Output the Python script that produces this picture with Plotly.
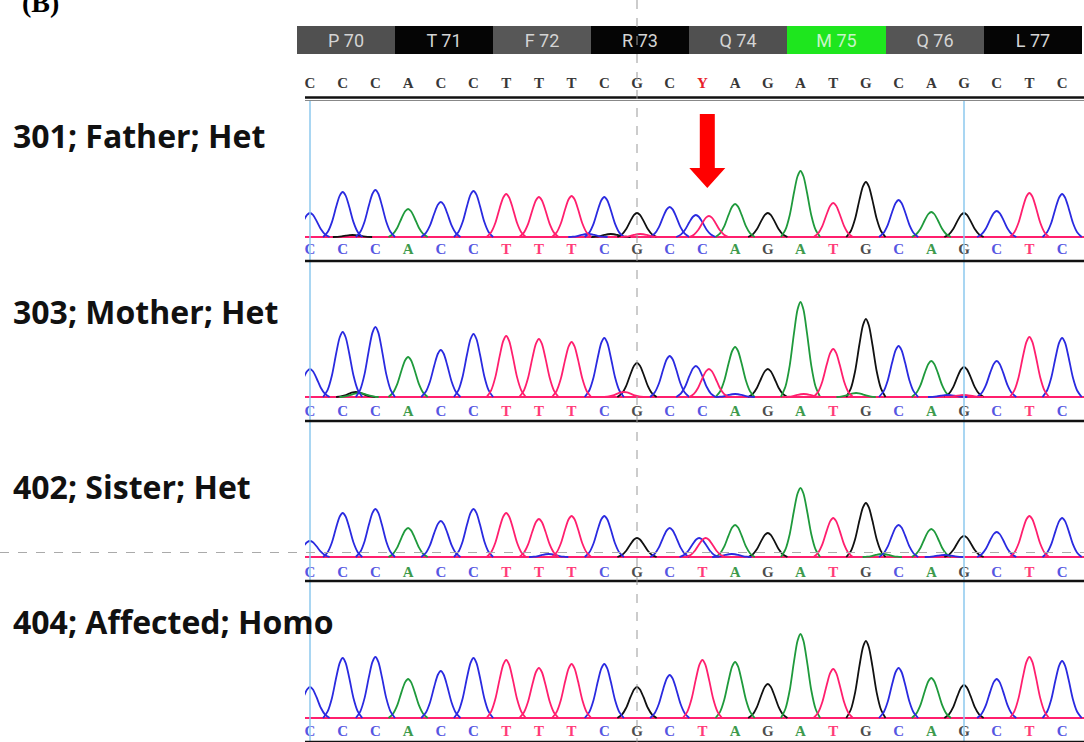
import plotly.graph_objects as go

# ---------------- data ----------------
codon_labels = ["P 70", "T 71", "F 72", "R 73", "Q 74", "M 75", "Q 76", "L 77"]
codon_start = [0, 3, 6, 9, 12, 15, 18, 21]
codon_colors = ["#505050", "#050505", "#575757", "#050505", "#505050", "#1ee61e", "#555555", "#050505"]

ref_seq = "CCCACCTTTCGCYAGATGCAGCTC"

sample_labels = ["301; Father; Het", "303; Mother; Het", "402; Sister; Het", "404; Affected; Homo"]

father_calls = "CCCACCTTTCGCCAGATGCAGCTC"
father_heights = [24, 45, 47, 28, 35, 46, 43, 40, 41, 40, 24, 30, 22, 33, 24, 66, 34, 55, 37, 25, 24, 26, 44, 43]
father_extra = [("T", 12.2, 21), ("G", 1.3, 2), ("C", 8.5, 3), ("G", 9.2, 3), ("T", 10.1, 3)]

mother_calls = "CCCACCTTTCGCCAGATGCAGCTC"
mother_heights = [28, 65, 70, 40, 47, 63, 61, 58, 55, 59, 34, 41, 31, 50, 28, 95, 48, 78, 51, 36, 30, 36, 60, 59]
mother_extra = [("T", 12.2, 28), ("G", 1.4, 5), ("A", 1.5, 4), ("T", 9.6, 5), ("C", 13.0, 3),
                ("T", 15.1, 3), ("A", 16.7, 4), ("C", 19.5, 2), ("T", 20.0, 2)]

sister_calls = "CCCACCTTTCGCTAGATGCAGCTC"
sister_heights = [16, 44, 48, 29, 36, 48, 44, 38, 41, 41, 19, 29, 19, 32, 24, 69, 39, 54, 32, 28, 21, 25, 41, 39]
sister_extra = [("C", 11.9, 19), ("C", 7.3, 3), ("C", 12.9, 3), ("A", 17.5, 3), ("C", 19.4, 2)]

affected_calls = "CCCACCTTTCGCTAGATGCAGCTC"
affected_heights = [31, 60, 61, 39, 47, 60, 58, 50, 54, 54, 31, 43, 58, 56, 34, 84, 49, 77, 50, 40, 33, 39, 61, 57]
affected_extra = []

panels = [
    (father_calls, father_heights, father_extra),
    (mother_calls, mother_heights, mother_extra),
    (sister_calls, sister_heights, sister_extra),
    (affected_calls, affected_heights, affected_extra),
]

# ---------------- style / geometry (pixels) ----------------
W, H = 1084, 742
STEP = 32.7          # px per base
X0 = 310             # px of base 0
TRACE_LEFT = 305
baselines = [237, 397, 557, 718]
below = [28, 28, 28, 24]
letter_off = [-13, -15, -16, -14]
line_off = -24
TOP = 100

# peak drawing template (shape of one trace peak, relative to its apex)
PROFILE_DX = [-0.6, -0.46, -0.33, -0.2, -0.09, 0.0, 0.09, 0.2, 0.33, 0.46, 0.6]
PROFILE_FR = [0.0, 0.11, 0.33, 0.67, 0.92, 1.0, 0.92, 0.67, 0.33, 0.11, 0.0]

channel_color = {"G": "#111111", "A": "#1f9a3c", "C": "#2a2ae0", "T": "#ff1f6e"}
letter_color = {"C": "#5656e2", "A": "#3d9a4c", "G": "#4d4d4d", "T": "#ff3c78", "Y": "#e8202a"}
order = ["G", "A", "C", "T"]
SEQ_FONT = "Liberation Serif, Courier New, serif"

def px2paper(py):
    return 1 - py / H

fig = go.Figure()

x_left = (TRACE_LEFT - X0) / STEP
x_right = (W - X0) / STEP

for p, (calls, heights, extra) in enumerate(panels):
    yname = "y" if p == 0 else f"y{p+1}"
    het_sites = {round(e[1]): e[1] - round(e[1]) for e in extra if e[2] > 10}
    peaks = {b: [] for b in order}
    for i, (b, h) in enumerate(zip(calls, heights)):
        pos = i - het_sites[i] if i in het_sites else i
        peaks[b].append((pos, h))
    for b, pos, h in extra:
        peaks[b].append((pos, h))
    for b in order:
        fig.add_trace(go.Scatter(x=[x_left, x_right], y=[0, 0], mode="lines",
                                 line=dict(color=channel_color[b], width=1.8),
                                 xaxis="x", yaxis=yname, hoverinfo="skip"))
    for b in order:
        xs, ys = [], []
        for pos, h in sorted(peaks[b]):
            xs += [pos + d for d in PROFILE_DX] + [None]
            ys += [h * f for f in PROFILE_FR] + [None]
        fig.add_trace(go.Scatter(x=xs, y=ys, mode="lines",
                                 line=dict(color=channel_color[b], width=1.8, shape="spline", smoothing=0.8),
                                 connectgaps=False, xaxis="x", yaxis=yname, hoverinfo="skip"))
    fig.add_trace(go.Scatter(x=list(range(len(calls))), y=[letter_off[p]] * len(calls), mode="text",
                             text=list(calls),
                             textfont=dict(family=SEQ_FONT, size=15, weight=700,
                                           color=[letter_color[c] for c in calls]),
                             xaxis="x", yaxis=yname, hoverinfo="skip", cliponaxis=False))

# header bars
fig.add_trace(go.Bar(x=[s + 1.1 for s in codon_start], y=[28] * len(codon_start), base=26, width=3,
                     marker=dict(color=codon_colors, line=dict(width=0)),
                     text=codon_labels, textposition="inside", insidetextanchor="middle", textangle=0,
                     textfont=dict(family="Liberation Sans Narrow, Arial Narrow, Roboto", size=18,
                                   color=["#d4d4d4"] * 5 + ["#c8f5c8"] + ["#d4d4d4"] * 2),
                     xaxis="x2", yaxis="y5", hoverinfo="skip"))
# reference sequence row
fig.add_trace(go.Scatter(x=list(range(len(ref_seq))), y=[84] * len(ref_seq), mode="text", text=list(ref_seq),
                         textfont=dict(family=SEQ_FONT, size=15, weight=700,
                                       color=["#e8202a" if c == "Y" else "#383838" for c in ref_seq]),
                         xaxis="x2", yaxis="y5", hoverinfo="skip", cliponaxis=False))

shapes = []
shapes.append(dict(type="line", xref="x2", yref="y5", x0=x_left, x1=x_right, y0=97.5, y1=97.5,
                   line=dict(color="#111", width=2.5)))
shapes.append(dict(type="line", xref="x2", yref="y5", x0=x_left, x1=x_right, y0=100.5, y1=100.5,
                   line=dict(color="#888", width=1)))
for p in range(4):
    yy = baselines[p] - line_off
    shapes.append(dict(type="line", xref="x2", yref="y5", x0=x_left, x1=x_right, y0=yy, y1=yy,
                       line=dict(color="#111", width=2.5)))
for xb in [0, 20]:
    shapes.append(dict(type="line", xref="x2", yref="y5", x0=xb, x1=xb, y0=101, y1=H,
                       line=dict(color="#8cc8ee", width=1.5), layer="below"))
shapes.append(dict(type="line", xref="x2", yref="y5", x0=10, x1=10, y0=0, y1=H,
                   line=dict(color="#999", width=1, dash="dash")))
shapes.append(dict(type="line", xref="paper", yref="y5", x0=0, x1=1, y0=552.5, y1=552.5,
                   line=dict(color="#aaa", width=1, dash="dash")))
ax = 12.15
sw, hw = 7.5 / STEP, 18 / STEP
path = (f"M {ax - sw} 114 L {ax + sw} 114 L {ax + sw} 168 L {ax + hw} 168 L {ax} 188 "
        f"L {ax - hw} 168 L {ax - sw} 168 Z")
shapes.append(dict(type="path", xref="x2", yref="y5", path=path, fillcolor="#ff0000",
                   line=dict(width=0)))

annotations = [dict(text="(B)", x=20 / W, y=2, xref="paper", yref="y5", xanchor="left", yanchor="middle",
                    showarrow=False, font=dict(family="Liberation Serif", size=28, color="#000", weight=700))]
label_y = [135, 311, 486, 621]
for lab, ly in zip(sample_labels, label_y):
    annotations.append(dict(text=lab, x=11 / W, y=ly, xref="paper", yref="y5", xanchor="left",
                            yanchor="middle", showarrow=False,
                            font=dict(family="Open Sans", size=32, color="#111", weight=700)))

layout = dict(
    width=W, height=H, margin=dict(l=0, r=0, t=0, b=0), paper_bgcolor="white", plot_bgcolor="rgba(0,0,0,0)",
    showlegend=False, shapes=shapes, annotations=annotations, bargap=0,
    xaxis=dict(domain=[TRACE_LEFT / W, 1], range=[x_left, x_right], visible=False, anchor="y", fixedrange=True),
    xaxis2=dict(domain=[0, 1], range=[-X0 / STEP, x_right], visible=False, anchor="y5", fixedrange=True),
    yaxis5=dict(domain=[0, 1], range=[H, 0], visible=False, anchor="x2", fixedrange=True),
)
for p in range(4):
    key = "yaxis" if p == 0 else f"yaxis{p+1}"
    bot_px = min(baselines[p] + below[p], H)
    top_px = baselines[p] - TOP
    layout[key] = dict(domain=[px2paper(bot_px), px2paper(top_px)], range=[-(bot_px - baselines[p]), TOP],
                       visible=False, anchor="x", fixedrange=True)

fig.update_layout(**layout)
fig.write_html("out.html")
